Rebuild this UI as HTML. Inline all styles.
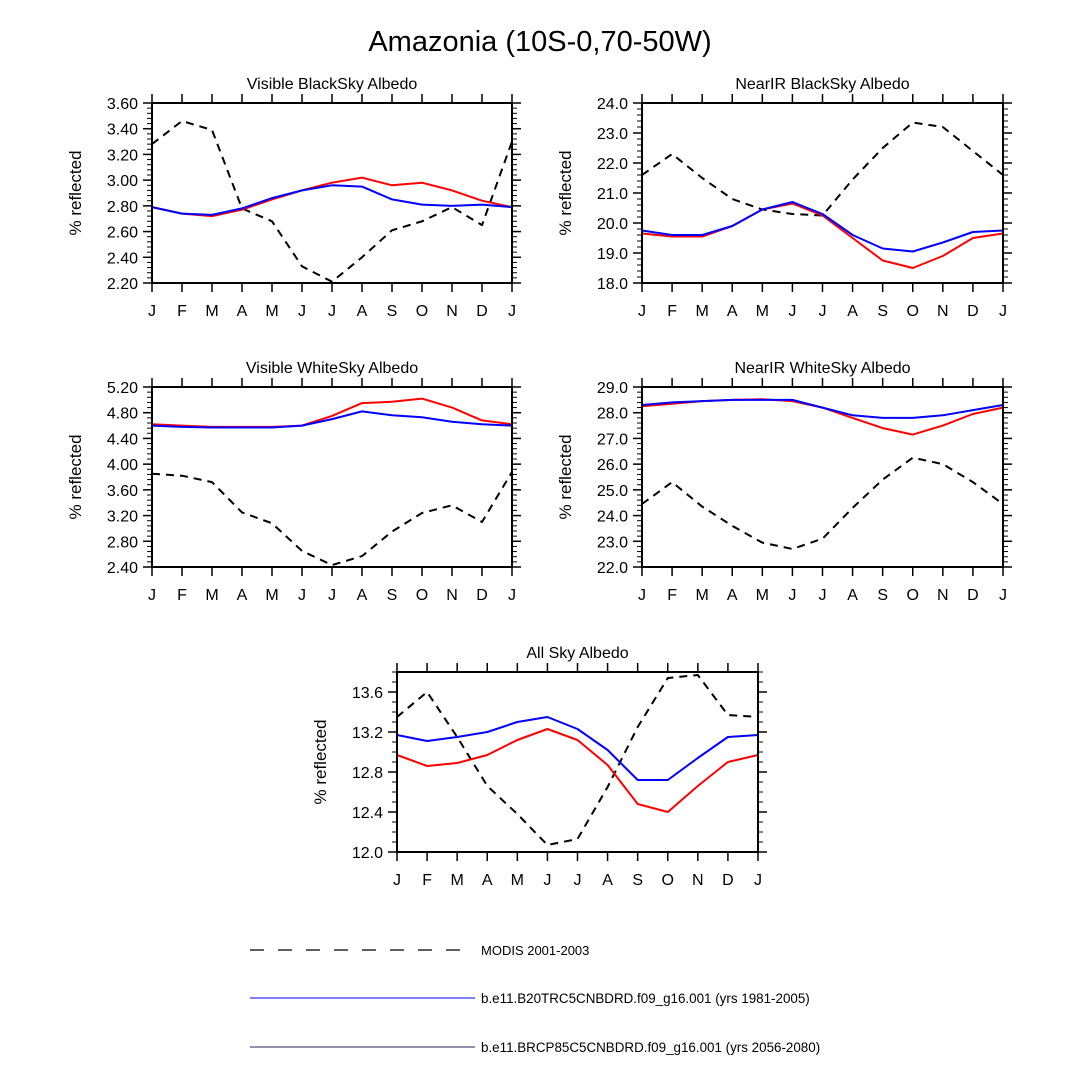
<!DOCTYPE html>
<html><head><meta charset="utf-8"><style>
html,body{margin:0;padding:0;background:#fff;}
svg{display:block;font-family:"Liberation Sans",sans-serif;}
</style></head><body>
<svg id="fig" width="1080" height="1080" viewBox="0 0 1080 1080">
<text x="540" y="51" text-anchor="middle" font-size="29">Amazonia (10S-0,70-50W)</text>
<g>
<line x1="250" y1="950" x2="462" y2="950" stroke="#000" stroke-width="1.3" stroke-dasharray="14,14"/>
<text x="481" y="955" font-size="13">MODIS 2001-2003</text>
<line x1="250" y1="998" x2="475" y2="998" stroke="#3333ff" stroke-width="1.3"/>
<text x="481" y="1003" font-size="13.4">b.e11.B20TRC5CNBDRD.f09_g16.001 (yrs 1981-2005)</text>
<line x1="250" y1="1047" x2="475" y2="1047" stroke="#222255" stroke-width="1"/>
<text x="481" y="1052" font-size="13.4">b.e11.BRCP85C5CNBDRD.f09_g16.001 (yrs 2056-2080)</text>
</g>
</svg>
<script>
const months = ["J","F","M","A","M","J","J","A","S","O","N","D","J"];
const p1Modis = [3.28,3.46,3.39,2.78,2.68,2.33,2.21,2.40,2.61,2.68,2.79,2.65,3.30];
const p1Red   = [2.79,2.74,2.72,2.77,2.85,2.92,2.98,3.02,2.96,2.98,2.92,2.84,2.79];
const p1Blue  = [2.79,2.74,2.73,2.78,2.86,2.92,2.96,2.95,2.85,2.81,2.80,2.81,2.79];
const p1Ticks = ["2.20","2.40","2.60","2.80","3.00","3.20","3.40","3.60"];
const p2Modis = [21.6,22.3,21.5,20.8,20.45,20.3,20.25,21.45,22.5,23.35,23.2,22.4,21.6];
const p2Red   = [19.65,19.55,19.55,19.9,20.45,20.65,20.25,19.5,18.75,18.5,18.9,19.5,19.65];
const p2Blue  = [19.75,19.6,19.6,19.9,20.45,20.7,20.3,19.6,19.15,19.05,19.35,19.7,19.75];
const p2Ticks = ["18.0","19.0","20.0","21.0","22.0","23.0","24.0"];
const p3Modis = [3.85,3.82,3.72,3.25,3.08,2.65,2.43,2.57,2.95,3.24,3.36,3.10,3.88];
const p3Red   = [4.62,4.60,4.58,4.58,4.58,4.60,4.75,4.95,4.97,5.02,4.88,4.68,4.62];
const p3Blue  = [4.60,4.58,4.57,4.57,4.57,4.60,4.70,4.82,4.76,4.73,4.66,4.62,4.60];
const p3Ticks = ["2.40","2.80","3.20","3.60","4.00","4.40","4.80","5.20"];
const p4Modis = [24.45,25.3,24.35,23.6,22.95,22.7,23.1,24.3,25.4,26.25,26.0,25.3,24.45];
const p4Red   = [28.25,28.35,28.45,28.5,28.52,28.45,28.2,27.8,27.4,27.15,27.5,27.95,28.2];
const p4Blue  = [28.3,28.4,28.45,28.5,28.5,28.5,28.2,27.9,27.8,27.8,27.9,28.1,28.3];
const p4Ticks = ["22.0","23.0","24.0","25.0","26.0","27.0","28.0","29.0"];
const p5Modis = [13.35,13.60,13.15,12.66,12.38,12.07,12.13,12.65,13.25,13.74,13.77,13.37,13.35];
const p5Red   = [12.97,12.86,12.89,12.97,13.12,13.23,13.12,12.87,12.48,12.40,12.66,12.90,12.97];
const p5Blue  = [13.17,13.11,13.15,13.20,13.30,13.35,13.23,13.02,12.72,12.72,12.94,13.15,13.17];
const p5Ticks = ["12.0","12.4","12.8","13.2","13.6"];

const NS="http://www.w3.org/2000/svg";
const svg=document.getElementById("fig");
function mk(tag,attrs,parent){const e=document.createElementNS(NS,tag);for(const k in attrs)e.setAttribute(k,attrs[k]);(parent||svg).appendChild(e);return e;}

function panel(cfg){
  const g=mk("g",{});
  
  
  const {x0,x1,y0,y1,ymin,ymax,minorStep}=cfg;
  const sx=i=>x0+(x1-x0)*i/(months.length-1);
  const sy=v=>y1-(y1-y0)*(v-ymin)/(ymax-ymin);
  for(let v=ymin;v<=ymax+1e-9;v+=minorStep){
    const y=sy(v);
    mk("line",{x1:x0-5,y1:y,x2:x0,y2:y,stroke:"#000","stroke-width":1},g);
    mk("line",{x1:x1,y1:y,x2:x1+5,y2:y,stroke:"#000","stroke-width":1},g);
  }
  cfg.ticks.forEach(t=>{
    const y=sy(parseFloat(t));
    mk("line",{x1:x0-9,y1:y,x2:x0,y2:y,stroke:"#000","stroke-width":1.5},g);
    mk("line",{x1:x1,y1:y,x2:x1+9,y2:y,stroke:"#000","stroke-width":1.5},g);
    const tx=mk("text",{x:x0-14,y:y+6,"text-anchor":"end","font-size":16},g);
    tx.textContent=t;
    
    
  });
  months.forEach((m,i)=>{
    const x=sx(i);
    mk("line",{x1:x,y1:y1,x2:x,y2:y1+9,stroke:"#000","stroke-width":1.5},g);
    mk("line",{x1:x,y1:y0-9,x2:x,y2:y0,stroke:"#000","stroke-width":1.5},g);
    const tx=mk("text",{x:x,y:y1+33,"text-anchor":"middle","font-size":16},g);
    tx.textContent=m;
    
    
  });
  const series=[[cfg.modis,"#000","8,6",2,"modis-line"],[cfg.red,"#ff0000","",2,"rcp85-line"],[cfg.blue,"#0000ff","",2,"b20tr-line"]];
  series.forEach(s=>{
    const pts=s[0].map((v,i)=>sx(i).toFixed(1)+","+sy(v).toFixed(1)).join(" ");
    const pl=mk("polyline",{points:pts,fill:"none",stroke:s[1],"stroke-width":s[3],"stroke-dasharray":s[2]||"none","stroke-linejoin":"round"},g);
    
    
  });
  const bx=mk("rect",{x:x0,y:y0,width:x1-x0,height:y1-y0,fill:"none",stroke:"#000","stroke-width":2},g);
  
  
  const tt=mk("text",{x:(x0+x1)/2,y:y0-14,"text-anchor":"middle","font-size":16},g);
  tt.textContent=cfg.title;
  
  
  const yl=mk("text",{x:0,y:0,"text-anchor":"middle","font-size":17,transform:`translate(${x0-71},${(y0+y1)/2}) rotate(-90)`},g);
  yl.textContent="% reflected";
  
  
}
panel({name:"panel-visible-blacksky",title:"Visible BlackSky Albedo",x0:152,x1:512,y0:103,y1:283,ymin:2.2,ymax:3.6,minorStep:0.04,ticks:p1Ticks,modis:p1Modis,red:p1Red,blue:p1Blue});
panel({name:"panel-nearir-blacksky",title:"NearIR BlackSky Albedo",x0:642,x1:1003,y0:103,y1:283,ymin:18,ymax:24,minorStep:0.2,ticks:p2Ticks,modis:p2Modis,red:p2Red,blue:p2Blue});
panel({name:"panel-visible-whitesky",title:"Visible WhiteSky Albedo",x0:152,x1:512,y0:387,y1:567,ymin:2.4,ymax:5.2,minorStep:0.08,ticks:p3Ticks,modis:p3Modis,red:p3Red,blue:p3Blue});
panel({name:"panel-nearir-whitesky",title:"NearIR WhiteSky Albedo",x0:642,x1:1003,y0:387,y1:567,ymin:22,ymax:29,minorStep:0.2,ticks:p4Ticks,modis:p4Modis,red:p4Red,blue:p4Blue});
panel({name:"panel-all-sky",title:"All Sky Albedo",x0:397,x1:758,y0:672,y1:852,ymin:12.0,ymax:13.8,minorStep:0.1,ticks:p5Ticks,modis:p5Modis,red:p5Red,blue:p5Blue});
</script>
</body></html>
